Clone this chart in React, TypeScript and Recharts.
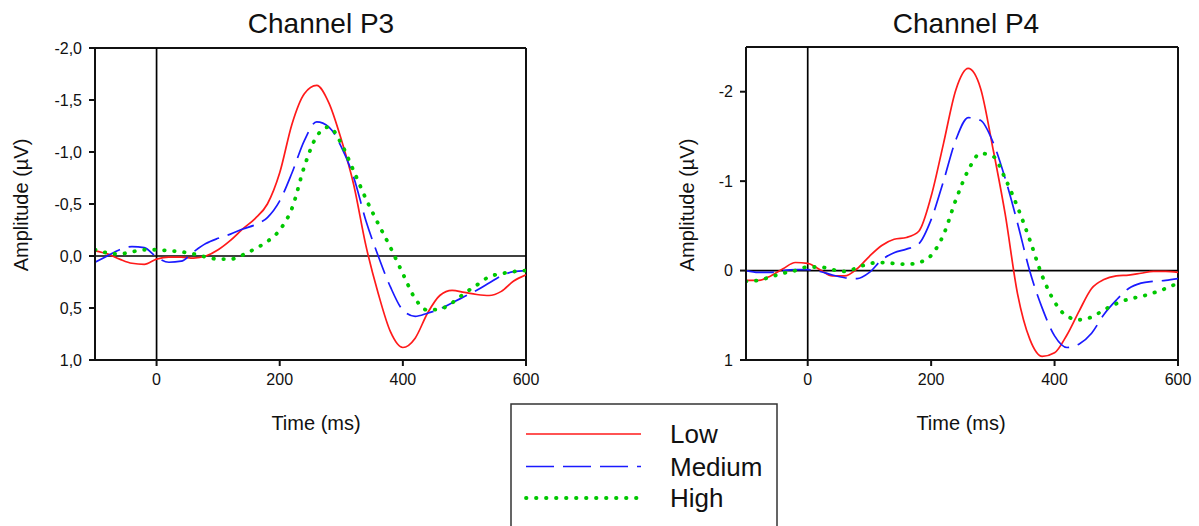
import { LineChart, Line, XAxis, YAxis, ReferenceLine } from 'recharts';

const FONT = '"Liberation Sans", Arial, sans-serif';

// time axis (ms)
const times = [
  -100, -80, -60, -40, -20, 0, 20, 40, 60, 80, 100, 120, 140, 160, 180, 200, 220, 240,
  260, 280, 300, 320, 340, 360, 380, 400, 420, 440, 460, 480, 500, 520, 540, 560, 580, 600,
];

// Channel P3 (µV)
const p3Low = [
  -0.05, -0.02, 0.03, 0.07, 0.08, 0.03, 0.01, 0.01, 0.02, 0.0, -0.06, -0.15, -0.26, -0.36, -0.5, -0.8, -1.27, -1.56,
  -1.64, -1.47, -1.12, -0.69, -0.1, 0.36, 0.73, 0.88, 0.79, 0.55, 0.38, 0.33, 0.35, 0.37, 0.38, 0.34, 0.24, 0.18,
];
const p3Medium = [
  0.06, 0.0, -0.06, -0.09, -0.08, 0.01, 0.06, 0.05, -0.04, -0.12, -0.17, -0.21, -0.26, -0.3, -0.37, -0.53, -0.8, -1.11,
  -1.29, -1.24, -1.05, -0.76, -0.34, 0.0, 0.3, 0.52, 0.58, 0.55, 0.51, 0.45, 0.39, 0.33, 0.26, 0.19, 0.15, 0.14,
];
const p3High = [
  -0.06, -0.03, -0.02, -0.04, -0.06, -0.06, -0.05, -0.04, -0.02, 0.01, 0.03, 0.03, -0.01, -0.07, -0.14, -0.25, -0.46, -0.86,
  -1.15, -1.24, -1.08, -0.82, -0.55, -0.31, -0.08, 0.17, 0.41, 0.52, 0.51, 0.45, 0.36, 0.28, 0.2, 0.17, 0.15, 0.14,
];

// Channel P4 (µV)
const p4Low = [
  0.11, 0.11, 0.06, -0.02, -0.09, -0.08, -0.01, 0.06, 0.06, -0.02, -0.16, -0.28, -0.35, -0.37, -0.44, -0.83, -1.42, -2.02,
  -2.26, -2.04, -1.37, -0.63, 0.26, 0.77, 0.96, 0.92, 0.72, 0.45, 0.2, 0.1, 0.06, 0.05, 0.03, 0.01, 0.01, 0.02,
];
const p4Medium = [
  0.0, 0.02, 0.02, 0.0, -0.01, -0.01, 0.01, 0.05, 0.08, 0.09, 0.02, -0.12, -0.2, -0.24, -0.3, -0.57, -1.0, -1.46,
  -1.71, -1.68, -1.44, -1.03, -0.53, 0.01, 0.42, 0.73, 0.86, 0.82, 0.7, 0.49, 0.33, 0.2, 0.14, 0.12, 0.11, 0.09,
];
const p4High = [
  0.12, 0.11, 0.07, 0.03, 0.0, -0.04, -0.04, -0.01, 0.01, -0.03, -0.08, -0.09, -0.08, -0.07, -0.09, -0.17, -0.4, -0.79,
  -1.12, -1.31, -1.28, -1.03, -0.71, -0.34, 0.06, 0.35, 0.51, 0.55, 0.52, 0.44, 0.37, 0.32, 0.29, 0.25, 0.2, 0.14,
];

const seriesKeys = ['low', 'medium', 'high'];
const seriesNames = ['Low', 'Medium', 'High'];
const timeTicks = [0, 200, 400, 600];
const p3Ticks = [-2, -1.5, -1, -0.5, 0, 0.5, 1];
const p4Ticks = [-2, -1, 0, 1];

const p3Data = times.map((t, i) => ({ t, low: p3Low[i], medium: p3Medium[i], high: p3High[i] }));
const p4Data = times.map((t, i) => ({ t, low: p4Low[i], medium: p4Medium[i], high: p4High[i] }));

const styles: Record<string, any> = {
  low: { stroke: '#ff1a1a', strokeWidth: 1.7 },
  medium: { stroke: '#1a1aff', strokeWidth: 1.7, strokeDasharray: '28 9' },
  high: { stroke: '#00c800', strokeWidth: 3.8, strokeDasharray: '0.5 9.5', strokeLinecap: 'round' },
};

const tickStyle = { fill: '#111', fontSize: 16, fontFamily: FONT };

function Panel({ data, left, width, margin, yDomain, yTicks, yFormat }: any) {
  return (
    <div style={{ position: 'absolute', left, top: 0 }}>
      <LineChart width={width} height={400} data={data} margin={margin}>
        <XAxis
          dataKey="t"
          type="number"
          domain={[-100, 600]}
          ticks={timeTicks}
          interval={0}
          allowDataOverflow
          height={30}
          stroke="#111"
          strokeWidth={2}
          tickSize={6}
          tickMargin={8}
          tick={tickStyle}
        />
        <YAxis
          type="number"
          domain={yDomain}
          ticks={yTicks}
          interval={0}
          reversed
          allowDataOverflow
          width={60}
          stroke="#111"
          strokeWidth={2}
          tickSize={6}
          tickMargin={7}
          tick={tickStyle}
          tickFormatter={yFormat}
        />
        <ReferenceLine y={yDomain[0]} stroke="#111" strokeWidth={2} />
        <ReferenceLine x={600} stroke="#111" strokeWidth={2} />
        <ReferenceLine y={0} stroke="#000" strokeWidth={1.7} />
        <ReferenceLine x={0} stroke="#000" strokeWidth={1.7} />
        {seriesKeys.map((k, i) => (
          <Line
            key={k}
            dataKey={k}
            name={seriesNames[i]}
            type="monotone"
            dot={false}
            activeDot={false}
            isAnimationActive={false}
            {...styles[k]}
          />
        ))}
      </LineChart>
    </div>
  );
}

export default function App() {
  const legendY = [434, 466.5, 498];
  return (
    <div
      style={{
        position: 'absolute',
        left: 0,
        top: 0,
        width: 1199,
        height: 526,
        background: '#fff',
        overflow: 'hidden',
        fontFamily: FONT,
      }}
    >
      <Panel
        data={p3Data}
        left={0}
        width={600}
        margin={{ top: 48, right: 74, bottom: 10, left: 35 }}
        yDomain={[-2, 1]}
        yTicks={p3Ticks}
        yFormat={(v: number) => v.toFixed(1).replace('.', ',')}
      />
      <Panel
        data={p4Data}
        left={600}
        width={599}
        margin={{ top: 47, right: 21, bottom: 10, left: 86 }}
        yDomain={[-2.5, 1]}
        yTicks={p4Ticks}
        yFormat={(v: number) => String(v)}
      />
      <svg
        width={1199}
        height={526}
        style={{ position: 'absolute', left: 0, top: 0, pointerEvents: 'none' }}
        fontFamily={FONT}
        fill="#111"
      >
        <text x={321} y={33} fontSize={28} textAnchor="middle">Channel P3</text>
        <text x={966} y={33} fontSize={28} textAnchor="middle">Channel P4</text>
        <text transform="translate(28,205) rotate(-90)" fontSize={20} textAnchor="middle">Amplitude (µV)</text>
        <text transform="translate(694,205) rotate(-90)" fontSize={20} textAnchor="middle">Amplitude (µV)</text>
        <text x={316} y={430} fontSize={20} textAnchor="middle">Time (ms)</text>
        <text x={961} y={430} fontSize={20} textAnchor="middle">Time (ms)</text>
        <rect x={511} y={404} width={266} height={140} fill="none" stroke="#333" strokeWidth={1.5} />
        {seriesKeys.map((k, i) => (
          <g key={k}>
            <line x1={526} x2={641} y1={legendY[i]} y2={legendY[i]} {...styles[k]} />
            <text x={670} y={legendY[i] + 9} fontSize={26}>{seriesNames[i]}</text>
          </g>
        ))}
      </svg>
    </div>
  );
}
